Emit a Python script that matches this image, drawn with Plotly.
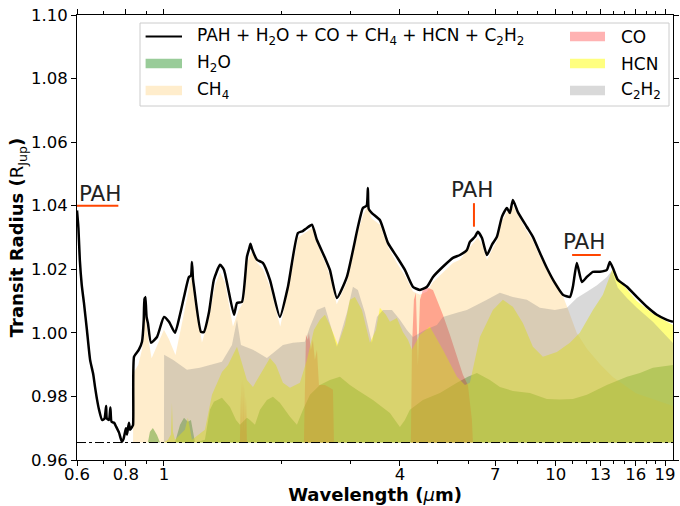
import numpy as np
import plotly.graph_objects as go

# ---------------- data ----------------
baseline_R = 0.9655

total_wl = [0.600, 0.605, 0.610, 0.617, 0.625, 0.636, 0.648, 0.660, 0.667, 0.675, 0.683, 0.695, 0.705, 0.712,
            0.715, 0.724, 0.730, 0.735, 0.746, 0.755, 0.768, 0.781, 0.788, 0.795, 0.800, 0.805, 0.814, 0.820,
            0.829, 0.834, 0.839, 0.863, 0.879, 0.888, 0.891, 0.894, 0.897, 0.903, 0.910, 0.927, 0.960, 1.000,
            1.030, 1.067, 1.100, 1.125, 1.158, 1.172, 1.179, 1.186, 1.193, 1.243, 1.265, 1.302, 1.341, 1.390,
            1.423, 1.509, 1.536, 1.581, 1.628, 1.650, 1.663, 1.677, 1.727, 1.788, 1.864, 1.976, 2.072, 2.197,
            2.260, 2.317, 2.385, 2.457, 2.575, 2.651, 2.763, 2.929, 3.125, 3.218, 3.290, 3.314, 3.330, 3.393,
            3.556, 3.728, 3.929, 4.119, 4.318, 4.500, 4.689, 4.858, 5.149, 5.461, 5.690, 5.929, 6.034, 6.214,
            6.324, 6.475, 6.668, 6.867, 7.072, 7.283, 7.499, 7.632, 7.768, 8.000, 8.434, 8.737, 9.104, 9.485,
            9.94, 10.42, 10.86, 11.05, 11.31, 11.65, 12.00, 12.43, 12.95, 13.49, 13.73, 13.98, 14.39, 15.18,
            16.09, 17.07, 18.10, 19.20, 19.89]
total_R = [1.0385, 1.0330, 1.0230, 1.0150, 1.0094, 1.0009, 0.9915, 0.9870, 0.9830, 0.9790, 0.9758, 0.9726,
           0.9730, 0.9770, 0.9730, 0.9726, 0.9765, 0.9720, 0.9717, 0.9705, 0.9686, 0.9657, 0.9665, 0.9686,
           0.9700, 0.9680, 0.9717, 0.9695, 0.9704, 0.9710, 0.9925, 0.9947, 0.9972, 1.0040, 1.0110, 1.0080,
           1.0113, 1.0050, 1.0031, 0.9969, 0.9987, 1.0050, 1.0035, 1.0000, 1.0060, 1.0113, 1.0176, 1.0180,
           1.0223, 1.0170, 1.0145, 1.0003, 1.0003, 1.0063, 1.0167, 1.0214, 1.0198, 1.0057, 1.0094, 1.0097,
           1.0239, 1.0265, 1.0280, 1.0265, 1.0230, 1.0220, 1.0167, 1.0050, 1.0145, 1.0314, 1.0320, 1.0330,
           1.0340, 1.0292, 1.0236, 1.0198, 1.0110, 1.0176, 1.0333, 1.0393, 1.0400, 1.0456, 1.0390, 1.0377,
           1.0355, 1.0283, 1.0239, 1.0198, 1.0145, 1.0135, 1.0145, 1.0176, 1.0208, 1.0236, 1.0245, 1.0261,
           1.0286, 1.0302, 1.0318, 1.0299, 1.0245, 1.0277, 1.0302, 1.0365, 1.0393, 1.0377, 1.0418, 1.0380,
           1.0333, 1.0302, 1.0252, 1.0204, 1.0157, 1.0120, 1.0113, 1.0145, 1.0220, 1.0160, 1.0176, 1.0192,
           1.0192, 1.0198, 1.0223, 1.0204, 1.0167, 1.0145, 1.0113, 1.0082, 1.0057, 1.0041, 1.0035]

h2o_wl = [0.819, 0.910, 0.921, 0.937, 0.960, 0.977, 1.067, 1.099, 1.125, 1.151, 1.172, 1.200, 1.272, 1.310,
          1.341, 1.374, 1.406, 1.474, 1.527, 1.563, 1.628, 1.657, 1.707, 1.758, 1.831, 1.897, 1.976, 2.097,
          2.184, 2.263, 2.358, 2.500, 2.651, 2.812, 2.982, 3.107, 3.414, 3.772, 4.000, 4.119, 4.242, 4.578,
          5.060, 5.591, 5.964, 6.288, 6.786, 7.197, 7.768, 8.584, 9.485, 10.24, 11.05, 12.00, 13.49, 15.18,
          16.38, 17.68, 19.89]
h2o_R = [0.9655, 0.9655, 0.9689, 0.9701, 0.9679, 0.9655, 0.9655, 0.9711, 0.9733, 0.9720, 0.9726, 0.9655,
         0.9664, 0.9758, 0.9783, 0.9789, 0.9796, 0.9767, 0.9726, 0.9711, 0.9733, 0.9726, 0.9711, 0.9758,
         0.9789, 0.9799, 0.9780, 0.9736, 0.9711, 0.9758, 0.9805, 0.9836, 0.9852, 0.9862, 0.9836, 0.9821,
         0.9789, 0.9748, 0.9704, 0.9726, 0.9758, 0.9789, 0.9811, 0.9843, 0.9862, 0.9874, 0.9852, 0.9830,
         0.9817, 0.9811, 0.9792, 0.9790, 0.9792, 0.9805, 0.9836, 0.9862, 0.9874, 0.9890, 0.9899]

ch4_wl = [0.834, 0.836, 0.86, 0.88, 0.894, 0.91, 0.93, 0.96, 1.00, 1.03, 1.07, 1.12, 1.16, 1.18, 1.20, 1.25,
          1.30, 1.35, 1.39, 1.43, 1.50, 1.55, 1.60, 1.63, 1.68, 1.73, 1.79, 1.87, 1.98, 2.07, 2.20, 2.32, 2.39,
          2.46, 2.58, 2.65, 2.76, 2.93, 3.13, 3.22, 3.31, 3.39, 3.56, 3.73, 3.93, 4.12, 4.32, 4.50, 4.69, 4.86,
          5.15, 5.46, 5.69, 6.03, 6.21, 6.32, 6.47, 6.67, 6.87, 7.07, 7.28, 7.50, 7.77, 8.00, 8.43, 8.74, 9.10,
          9.49, 10.2, 10.7, 11.3, 12.0, 13.0, 14.0, 16.0, 19.9]
ch4_R = [0.9655, 0.9874, 0.990, 0.995, 1.007, 0.999, 0.992, 0.996, 1.001, 0.998, 0.993, 1.005, 1.014, 1.019,
         1.012, 0.997, 1.004, 1.015, 1.019, 1.016, 1.002, 1.007, 1.010, 1.022, 1.026, 1.022, 1.020, 1.014,
         1.002, 1.013, 1.030, 1.032, 1.033, 1.028, 1.022, 1.018, 1.009, 1.016, 1.032, 1.037, 1.040, 1.036,
         1.034, 1.027, 1.022, 1.018, 1.013, 1.012, 1.013, 1.016, 1.019, 1.022, 1.023, 1.027, 1.029, 1.030,
         1.028, 1.023, 1.026, 1.029, 1.035, 1.038, 1.040, 1.037, 1.032, 1.029, 1.024, 1.020, 1.0145, 1.008,
         1.000, 0.995, 0.990, 0.986, 0.981, 0.977]

co_wl = [0.834, 1.563, 1.565, 1.572, 1.582, 1.590, 1.600, 1.609, 1.619, 1.628, 2.276, 2.289, 2.303, 2.330,
         2.344, 2.371, 2.399, 2.427, 2.457, 2.486, 2.575, 2.651, 2.699, 2.715, 4.267, 4.292, 4.343, 4.394,
         4.446, 4.500, 4.578, 4.714, 4.858, 4.971, 5.149, 5.366, 5.591, 5.792, 5.964, 6.106, 6.142, 19.89]
co_R = [0.9655, 0.9655, 0.9805, 0.9680, 0.9852, 0.9690, 0.9840, 0.9690, 0.9800, 0.9655, 0.9655, 0.9836,
        0.9994, 0.9978, 1.0000, 0.9947, 0.9978, 0.9915, 0.9947, 0.9836, 0.9836, 0.9827, 0.9821, 0.9655,
        0.9655, 0.9947, 1.0104, 1.0126, 0.9899, 1.0104, 1.0135, 1.0142, 1.0135, 1.0104, 1.0057, 0.9994,
        0.9925, 0.9868, 0.9836, 0.9726, 0.9655, 0.9655]

hcn_wl = [1.000, 1.024, 1.042, 1.048, 1.054, 1.067, 1.131, 1.151, 1.179, 1.272, 1.326, 1.406, 1.457, 1.509,
          1.536, 1.572, 1.628, 1.687, 1.778, 1.864, 1.931, 2.012, 2.097, 2.223, 2.317, 2.413, 2.500, 2.575,
          2.651, 2.780, 2.896, 2.982, 3.071, 3.200, 3.354, 3.475, 3.556, 3.684, 3.772, 3.929, 4.071, 4.193,
          4.292, 4.500, 4.770, 5.149, 5.591, 5.861, 6.034, 6.399, 6.907, 7.325, 7.768, 8.237, 8.737, 9.266,
          10.06, 10.86, 11.51, 12.43, 13.18, 13.73, 13.98, 14.39, 14.83, 16.09, 17.68, 19.89]
hcn_R = [0.9655, 0.9664, 0.9680, 0.9780, 0.9690, 0.9664, 0.9695, 0.9733, 0.9664, 0.9695, 0.9805, 0.9877,
         0.9899, 0.9940, 0.9956, 0.9915, 0.9852, 0.9830, 0.9877, 0.9921, 0.9899, 0.9843, 0.9827, 0.9843,
         0.9915, 1.0009, 1.0041, 1.0057, 1.0025, 0.9962, 1.0025, 1.0104, 1.0113, 1.0072, 0.9969, 1.0009,
         1.0079, 1.0057, 1.0035, 1.0047, 1.0003, 0.9978, 0.9947, 0.9994, 1.0019, 0.9947, 0.9862, 0.9836,
         0.9843, 0.9987, 1.0072, 1.0104, 1.0082, 1.0031, 0.9956, 0.9925, 0.9940, 0.9969, 1.0000, 1.0072,
         1.0120, 1.0183, 1.0204, 1.0172, 1.0151, 1.0100, 1.0060, 1.0025]

c2h2_wl = [1.000, 1.001, 1.054, 1.145, 1.235, 1.406, 1.491, 1.536, 1.572, 1.687, 1.831, 2.012, 2.134, 2.289,
           2.358, 2.457, 2.575, 2.683, 2.763, 2.929, 3.035, 3.125, 3.257, 3.393, 3.495, 3.620, 3.817, 4.000,
           4.168, 4.318, 4.632, 4.971, 5.149, 5.591, 5.929, 6.668, 7.197, 7.768, 8.434, 9.104, 9.94, 10.67,
           11.31, 12.00, 12.73, 13.49, 13.90, 14.39, 15.18, 16.09, 17.68, 19.89]
c2h2_R = [0.9655, 0.9931, 0.9915, 0.9884, 0.9890, 0.9909, 0.9962, 1.0041, 0.9962, 0.9947, 0.9921, 0.9962,
          0.9969, 0.9972, 1.0019, 1.0072, 1.0082, 1.0009, 0.9956, 1.0063, 1.0145, 1.0135, 1.0063, 0.9969,
          1.0050, 1.0072, 1.0072, 1.0041, 1.0009, 0.9987, 1.0009, 1.0025, 1.0050, 1.0063, 1.0072, 1.0104,
          1.0126, 1.0113, 1.0104, 1.0079, 1.0072, 1.0079, 1.0110, 1.0129, 1.0150, 1.0176, 1.0195, 1.0142,
          1.0110, 1.0079, 1.0035, 0.9968]

# PAH features (wavelength ranges / positions, radius level)
pah_labels = ["PAH", "PAH", "PAH"]
pah_text_wl = [0.685, 6.12, 11.79]
pah_text_R = [1.0440, 1.0450, 1.0289]
pah_bar_wl = [[0.600, 0.765], [6.18, 6.18], [11.0, 13.02]]
pah_bar_R = [[1.0400, 1.0400], [1.0334, 1.0408], [1.0245, 1.0245]]

xtick_vals = [0.6, 0.8, 1, 4, 7, 10, 13, 16, 19]
xtick_text = ["0.6", "0.8", "1", "4", "7", "10", "13", "16", "19"]
xminor_vals = [0.7, 0.9, 2, 3, 5, 6, 8, 9, 11, 12, 14, 15, 17, 18]

# ---------------- styles ----------------
FONT = "DejaVu Sans"
species = [
    ("H<sub>2</sub>O", h2o_wl, h2o_R, "rgba(0,128,0,0.4)"),
    ("CH<sub>4</sub>", ch4_wl, ch4_R, "rgba(255,165,0,0.2)"),
    ("CO", co_wl, co_R, "rgba(255,0,0,0.3)"),
    ("HCN", hcn_wl, hcn_R, "rgba(255,255,0,0.5)"),
    ("C<sub>2</sub>H<sub>2</sub>", c2h2_wl, c2h2_R, "rgba(128,128,128,0.3)"),
]
colors = {name: c for name, _, _, c in species}

fig = go.Figure()

for name, wl, r, col in species:
    xs = list(wl) + [wl[-1], wl[0]]
    ys = list(r) + [baseline_R, baseline_R]
    fig.add_trace(go.Scatter(x=xs, y=ys, mode="lines", fill="toself", fillcolor=col,
                             line=dict(width=0), name=name, showlegend=False, hoverinfo="skip"))

# baseline dash-dot
fig.add_trace(go.Scatter(x=[0.6, 19.9], y=[baseline_R, baseline_R], mode="lines",
                         line=dict(color="black", width=1, dash="dashdot"), showlegend=False, hoverinfo="skip"))

# PAH markers
for bw, br in zip(pah_bar_wl, pah_bar_R):
    fig.add_trace(go.Scatter(x=bw, y=br, mode="lines", line=dict(color="orangered", width=2),
                             showlegend=False, hoverinfo="skip"))

# total spectrum
fig.add_trace(go.Scatter(x=total_wl, y=total_R, mode="lines",
                         line=dict(color="black", width=2.5, shape="spline", smoothing=0.5),
                         name="total", showlegend=False))

annotations = []
for t, w, r in zip(pah_labels, pah_text_wl, pah_text_R):
    annotations.append(dict(x=np.log10(w), y=r, xref="x", yref="y", text=t, showarrow=False,
                            font=dict(family=FONT, size=21.5, color="#222222"), xanchor="center", yanchor="middle"))

# ---------------- manual legend (pixel layout -> paper coords) ----------------
L, R_, T, B = 77, 673, 15, 460
def px(xp):
    return (xp - L) / (R_ - L)
def py(yp):
    return (B - yp) / (B - T)

shapes = [dict(type="rect", xref="paper", yref="paper", x0=px(140), x1=px(669), y0=py(23), y1=py(106),
               line=dict(color="#cccccc", width=1), fillcolor="rgba(255,255,255,0.8)", layer="above")]

rows = [36.5, 63.5, 90.5]
left_items = [("PAH + H<sub>2</sub>O + CO + CH<sub>4</sub> + HCN + C<sub>2</sub>H<sub>2</sub>", None),
              ("H<sub>2</sub>O", colors["H<sub>2</sub>O"]),
              ("CH<sub>4</sub>", colors["CH<sub>4</sub>"])]
right_items = [("CO", colors["CO"]), ("HCN", colors["HCN"]),
               ("C<sub>2</sub>H<sub>2</sub>", colors["C<sub>2</sub>H<sub>2</sub>"])]

for (items, sx0, sx1, tx) in [(left_items, 145.6, 182.0, 195.0), (right_items, 570.0, 605.0, 619.0)]:
    for (txt, col), yr in zip(items, rows):
        if col is None:
            shapes.append(dict(type="line", xref="paper", yref="paper", x0=px(sx0), x1=px(sx1),
                               y0=py(yr), y1=py(yr), line=dict(color="black", width=2), layer="above"))
        else:
            shapes.append(dict(type="rect", xref="paper", yref="paper", x0=px(sx0), x1=px(sx1),
                               y0=py(yr + 4.8), y1=py(yr - 4.8), line=dict(width=0), fillcolor=col, layer="above"))
        annotations.append(dict(x=px(tx), y=py(yr), xref="paper", yref="paper", text=txt, showarrow=False,
                                xanchor="left", yanchor="middle", font=dict(family=FONT, size=17, color="black")))

fig.update_layout(
    width=680, height=506,
    margin=dict(l=77, r=7, t=15, b=46, autoexpand=False),
    paper_bgcolor="white", plot_bgcolor="white",
    font=dict(family=FONT, color="black"),
    showlegend=False,
    annotations=annotations,
    shapes=shapes,
    xaxis=dict(type="log", range=[np.log10(0.6), np.log10(19.9)], automargin=False,
               tickvals=xtick_vals, ticktext=xtick_text,
               ticks="outside", ticklen=5, tickwidth=1, tickcolor="black",
               ticklabelstandoff=-6,
               minor=dict(tickvals=xminor_vals, ticks="outside", ticklen=3, tickwidth=1, tickcolor="black", showgrid=False),
               showline=True, linecolor="black", linewidth=1, mirror="ticks",
               showgrid=False, zeroline=False,
               tickfont=dict(family=FONT, size=16.5, color="black"),
               title=dict(text="<b>Wavelength (</b><i>μ</i><b>m)</b>", font=dict(family=FONT, size=18, color="black"),
                          standoff=3)),
    yaxis=dict(range=[0.96, 1.10], tick0=0.96, dtick=0.02, tickformat=".2f", automargin=False,
               ticks="outside", ticklen=5, tickwidth=1, tickcolor="black",
               showline=True, linecolor="black", linewidth=1, mirror="ticks",
               showgrid=False, zeroline=False,
               tickfont=dict(family=FONT, size=16.5, color="black"),
               title=dict(text="<b>Transit Radius (</b>R<sub>Jup</sub><b>)</b>",
                          font=dict(family=FONT, size=18, color="black"), standoff=2)),
)

fig.write_html("out.html")
